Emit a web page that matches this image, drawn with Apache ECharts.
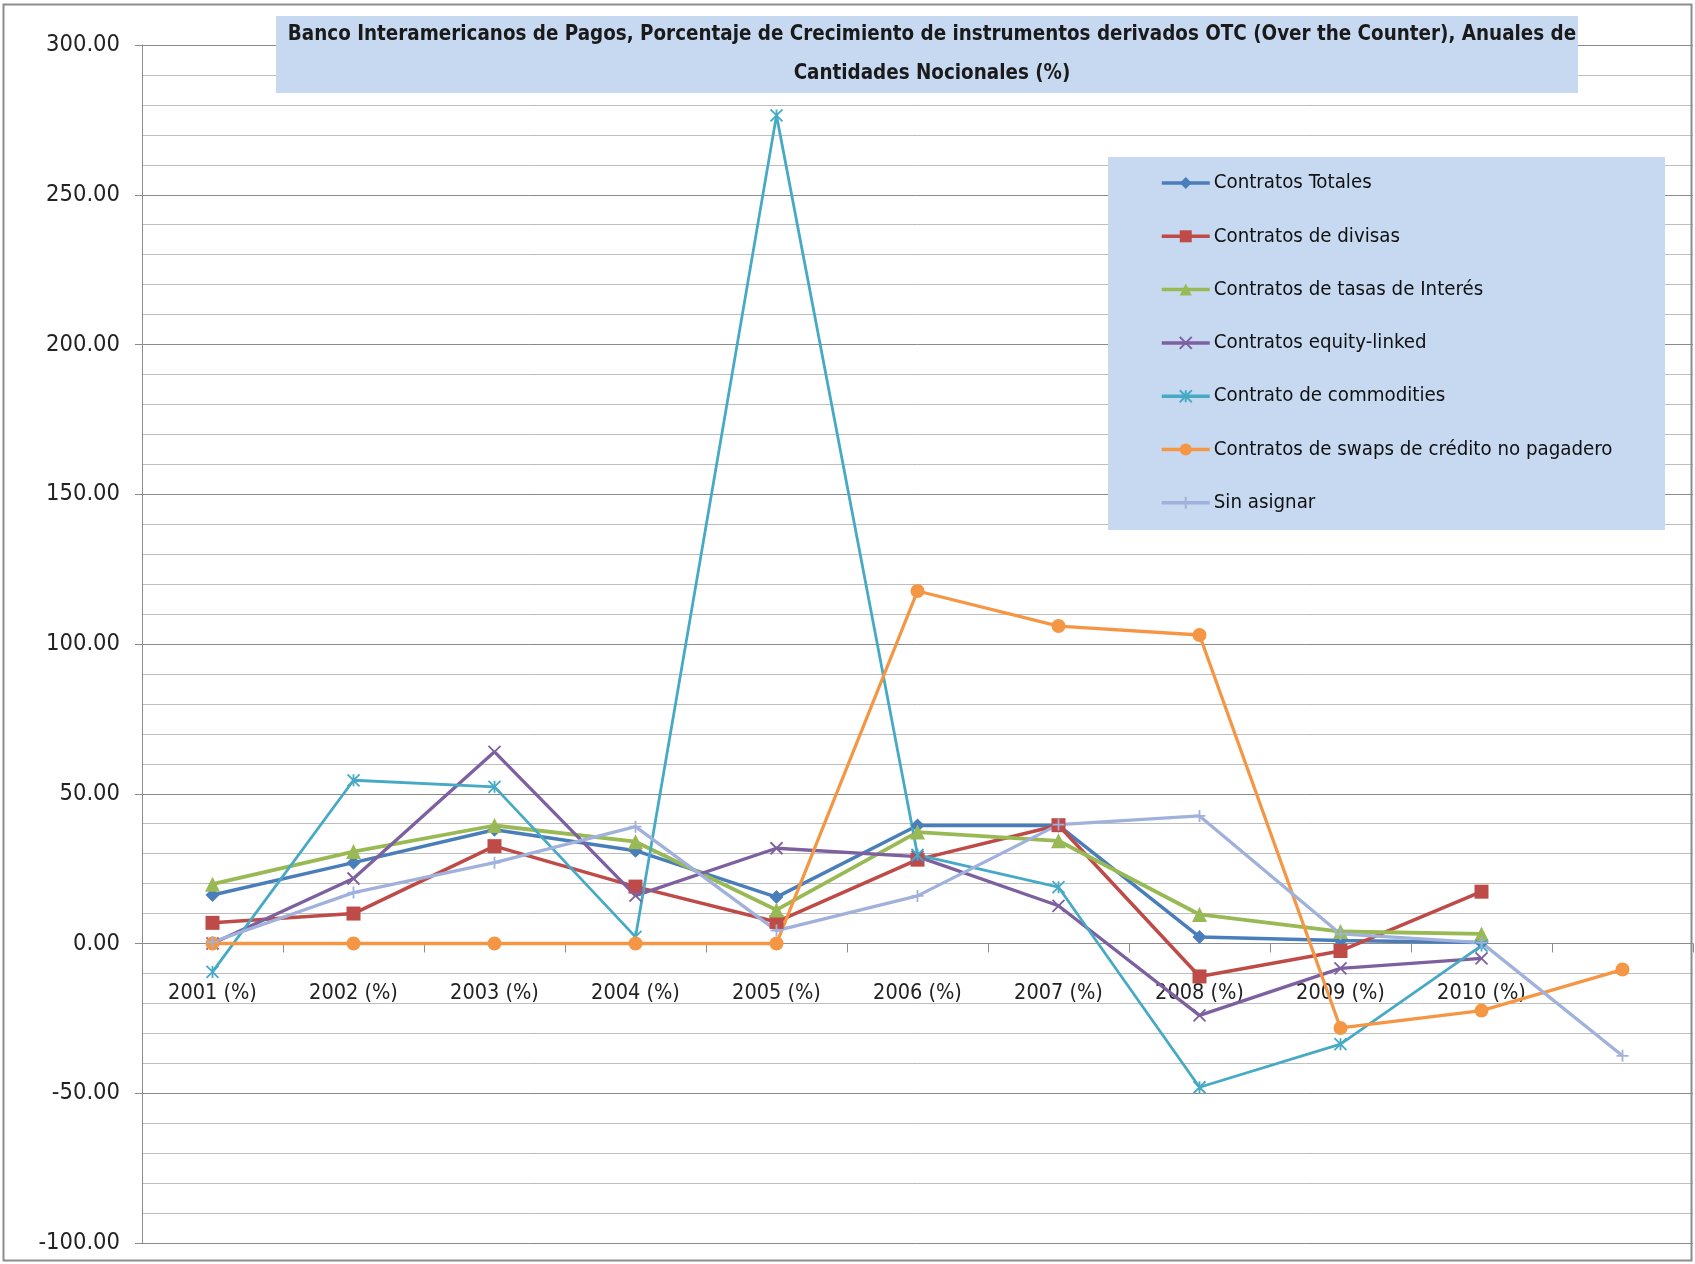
<!DOCTYPE html>
<html>
<head>
<meta charset="utf-8">
<script src="https://cdn.jsdelivr.net/npm/echarts@6/dist/echarts.min.js"></script>
<style>
  html, body { margin: 0; padding: 0; background: #fff; }
  #chart { width: 1695px; height: 1264px; }
</style>
</head>
<body>
<div id="chart"></div>
<script>
// Annual growth (%) of notional amounts of OTC derivatives, by contract type
const categories = ['2001 (%)', '2002 (%)', '2003 (%)', '2004 (%)', '2005 (%)', '2006 (%)',
  '2007 (%)', '2008 (%)', '2009 (%)', '2010 (%)', ''];

const totales     = [16.2, 27.0, 38.0, 31.0, 15.5, 39.4, 39.4, 2.2, 1.0, 0.3, null];
const divisas     = [6.9, 10.0, 32.5, 19.0, 7.2, 28.0, 39.5, -11.0, -2.5, 17.3, null];
const tasas       = [19.8, 30.7, 39.4, 34.0, 11.2, 37.2, 34.3, 9.7, 4.0, 3.2, null];
const equity      = [0.0, 21.7, 64.0, 16.0, 31.8, 29.0, 12.6, -24.0, -8.3, -5.0, null];
const commodities = [-9.5, 54.5, 52.3, 2.2, 276.5, 29.6, 18.8, -48.0, -33.6, -0.7, null];
const swaps       = [0.0, 0.0, 0.0, 0.0, 0.0, 117.7, 106.0, 103.0, -28.2, -22.4, -8.7];
const sinAsignar  = [0.5, 17.0, 27.0, 39.0, 4.3, 15.9, 39.7, 42.6, 3.2, 0.3, -37.5];

const seriesNames = [
  'Contratos Totales',
  'Contratos de divisas',
  'Contratos de tasas de Interés',
  'Contratos equity-linked',
  'Contrato de commodities',
  'Contratos de swaps de crédito no pagadero',
  'Sin asignar'
];

const yTicks = { min: -100, max: 300, step: 50 };

const FONT = "'DejaVu Sans Condensed', 'Liberation Sans Narrow', sans-serif";

const X_PATH = 'path://M0,0 L10,10 M10,0 L0,10';
const STAR_PATH = 'path://M0,0 L10,10 M10,0 L0,10 M5,0 L5,10';
const PLUS_PATH = 'path://M5,0 L5,10 M0,5 L10,5';

// plot box
const GRID = { left: 142, right: 2, top: 45, bottom: 21 };
const plotHeight = 1264 - GRID.top - GRID.bottom;
// shift the category axis up from the bottom edge to the zero line
const zeroOffset = -plotHeight * (0 - yTicks.min) / (yTicks.max - yTicks.min);

function lineSeries(name, data, color, symbol, size, width, stroked) {
  return {
    name: name,
    type: 'line',
    data: data,
    symbol: symbol,
    symbolSize: size,
    showSymbol: true,
    connectNulls: false,
    lineStyle: { color: color, width: width },
    itemStyle: stroked
      ? { color: color, borderColor: color, borderWidth: 1.8 }
      : { color: color, borderWidth: 0 },
    emphasis: { disabled: true },
    animation: false
  };
}

const chart = echarts.init(document.getElementById('chart'), null, { renderer: 'canvas' });

chart.setOption({
  backgroundColor: '#ffffff',
  animation: false,
  title: {
    text: 'Banco Interamericanos de Pagos, Porcentaje de Crecimiento de instrumentos derivados OTC (Over the Counter), Anuales de\nCantidades Nocionales (%)',
    left: 927,
    top: 10,
    textAlign: 'center',
    textStyle: {
      fontFamily: FONT,
      fontWeight: 'bold',
      fontSize: 20.4,
      lineHeight: 39,
      color: '#1a1a1a'
    },
    z: 8
  },
  graphic: [
    {
      type: 'rect',
      shape: { x: 276, y: 16, width: 1302, height: 77 },
      style: { fill: '#c6d9f1' },
      z: 5
    },
    {
      type: 'rect',
      shape: { x: 1108, y: 157, width: 557, height: 373 },
      style: { fill: '#c6d9f1' },
      z: 5
    },
    {
      type: 'rect',
      shape: { x: 3.5, y: 4.5, width: 1688, height: 1256 },
      style: { fill: 'none', stroke: '#8c8c8c', lineWidth: 2 },
      z: 10
    }
  ],
  legend: {
    orient: 'vertical',
    left: 1160,
    top: 170,
    itemWidth: 48,
    itemHeight: 15,
    itemGap: 27.3,
    padding: 0,
    z: 8,
    lineStyle: { width: 3.5 },
    textStyle: { fontFamily: FONT, fontSize: 20.3, color: '#111', lineHeight: 26, padding: [0, 0, 0, -1] },
    data: seriesNames
  },
  grid: { left: GRID.left, right: GRID.right, top: GRID.top, bottom: GRID.bottom, containLabel: false, outerBoundsMode: 'none' },
  xAxis: {
    type: 'category',
    data: categories,
    boundaryGap: true,
    offset: zeroOffset,
    axisLine: { onZero: false, lineStyle: { color: '#8c8c8c', width: 1 } },
    axisTick: { show: true, length: 9, interval: 0, alignWithLabel: false, lineStyle: { color: '#8c8c8c' } },
    axisLabel: { interval: 0, margin: 39, fontFamily: FONT, fontSize: 21.5, color: '#222' },
    splitLine: { show: false }
  },
  yAxis: {
    type: 'value',
    min: yTicks.min,
    max: yTicks.max,
    interval: yTicks.step,
    axisLine: { show: true, lineStyle: { color: '#8c8c8c', width: 1 } },
    axisTick: { show: true, length: 7, lineStyle: { color: '#8c8c8c' } },
    axisLabel: {
      margin: 22,
      fontFamily: FONT,
      fontSize: 23.5,
      color: '#222',
      formatter: function (v) { return v.toFixed(2); }
    },
    splitLine: { show: true, lineStyle: { color: '#8a8a8a', width: 1 } },
    minorTick: { show: false, splitNumber: 5 },
    minorSplitLine: { show: true, lineStyle: { color: '#bdbdbd', width: 1 } }
  },
  series: [
    lineSeries(seriesNames[0], totales, '#4a7ebb', 'diamond', 14, 3.5, false),
    lineSeries(seriesNames[1], divisas, '#be4b48', 'rect', 14, 3.5, false),
    lineSeries(seriesNames[2], tasas, '#98b954', 'triangle', 15, 3.8, false),
    lineSeries(seriesNames[3], equity, '#7d60a0', X_PATH, 12, 3.3, true),
    lineSeries(seriesNames[4], commodities, '#46aac5', STAR_PATH, 12, 2.8, true),
    lineSeries(seriesNames[5], swaps, '#f59645', 'circle', 14, 3.3, false),
    lineSeries(seriesNames[6], sinAsignar, '#a0b1dc', PLUS_PATH, 12, 3.3, true)
  ]
});
</script>
</body>
</html>
